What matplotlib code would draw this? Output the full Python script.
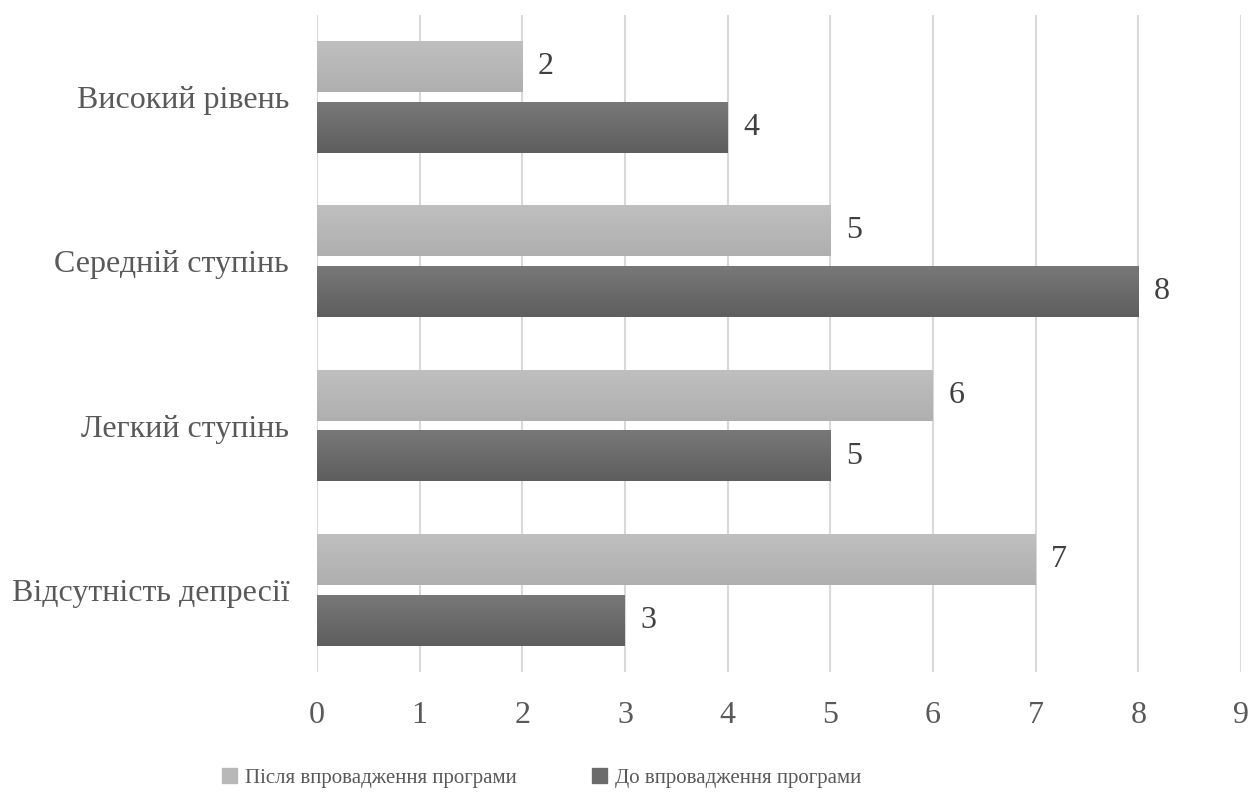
import numpy as np
import matplotlib.pyplot as plt
from matplotlib.colors import LinearSegmentedColormap
from matplotlib.patches import Patch

categories = ["Відсутність депресії", "Легкий ступінь", "Середній ступінь", "Високий рівень"]
after = [7, 6, 5, 2]
before = [3, 5, 8, 4]
series_names = ["Після впровадження програми", "До впровадження програми"]

plt.rcParams['font.family'] = ['Liberation Serif', 'DejaVu Serif']

fig = plt.figure(figsize=(12.51, 8.07), dpi=100)
ax = fig.add_axes([0.2534, 0.1673, 0.7386, 0.8141])

y = np.arange(len(categories))
h = 0.31
gap = 0.06

light_bars = ax.barh(y + (h + gap) / 2, after, height=h, color='#b8b8b8', zorder=2)
dark_bars = ax.barh(y - (h + gap) / 2, before, height=h, color='#6b6b6b', zorder=2)

# vertical gradient fill over each bar
light_cmap = LinearSegmentedColormap.from_list('lg', ['#afafaf', '#bfbfbf'])
dark_cmap = LinearSegmentedColormap.from_list('dg', ['#5e5e5e', '#787878'])
grad = np.linspace(0, 1, 64).reshape(-1, 1)
for bars, cmap in [(light_bars, light_cmap), (dark_bars, dark_cmap)]:
    for p in bars.patches:
        x0, y0 = p.get_x(), p.get_y()
        ax.imshow(grad, cmap=cmap, aspect='auto', origin='lower',
                  extent=[x0, x0 + p.get_width(), y0, y0 + p.get_height()],
                  zorder=3, interpolation='bilinear')

for bars, vals in [(light_bars, after), (dark_bars, before)]:
    for p, v in zip(bars.patches, vals):
        ax.text(v + 0.15, p.get_y() + p.get_height() / 2, str(v),
                va='center', ha='left', fontsize=23, color='#404040')

ax.set_xlim(0, 9)
ax.set_ylim(-0.5, len(categories) - 0.5)
ax.set_xticks(range(10))
ax.set_yticks(y)
ax.set_yticklabels(categories)
ax.grid(axis='x', color='#d9d9d9', linewidth=1.5, zorder=0)
ax.set_axisbelow(True)
for s in ax.spines.values():
    s.set_visible(False)
ax.tick_params(axis='x', length=0, pad=21, labelsize=23, labelcolor='#595959')
ax.tick_params(axis='y', length=0, pad=20, labelsize=23, labelcolor='#595959')

handles = [Patch(color='#b8b8b8'), Patch(color='#6b6b6b')]
fig.legend(handles, series_names, loc='center', ncol=2, frameon=False,
           fontsize=15, labelcolor='#595959', handlelength=0.7, handleheight=0.7,
           handletextpad=0.4, columnspacing=3.6, bbox_to_anchor=(0.433, 0.036))

fig.savefig('out.png', dpi=100)
